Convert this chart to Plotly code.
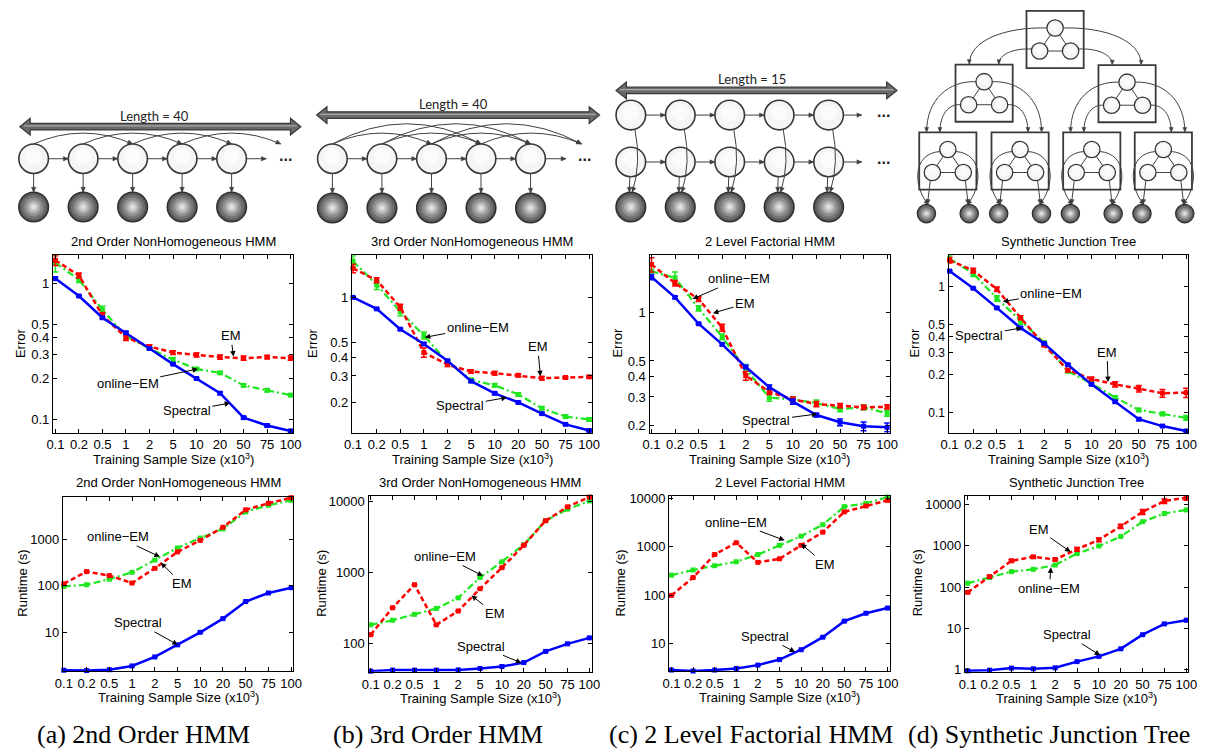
import math
import plotly.graph_objects as go

W, H = 1211, 753
FONT = "Liberation Sans"

# ---------------- data ----------------
sizes = ["0.1", "0.2", "0.5", "1", "2", "5", "10", "20", "50", "75", "100"]
xpos = list(range(1, 12))

# Error, (a) 2nd order HMM
err_a_spec = [1.08, 0.805, 0.558, 0.433, 0.332, 0.255, 0.200, 0.156, 0.1034, 0.0905, 0.0824]
err_a_em = [1.47, 1.14, 0.58, 0.40, 0.343, 0.31, 0.298, 0.287, 0.282, 0.287, 0.282]
err_a_oem = [1.41, 1.06, 0.638, 0.409, 0.332, 0.275, 0.235, 0.22, 0.178, 0.164, 0.151]
err_a_spec_sd = [0.03, 0.01, 0.01, 0.01, 0.005, 0.004, 0.003, 0.003, 0.002, 0.002, 0.002]
err_a_em_sd = [0.12, 0.05, 0.03, 0.02, 0.01, 0.01, 0.01, 0.01, 0.01, 0.008, 0.01]
err_a_oem_sd = [0.2, 0.05, 0.04, 0.02, 0.01, 0.01, 0.005, 0.005, 0.004, 0.004, 0.003]

# Error, (b) 3rd order HMM
err_b_spec = [1.0, 0.839, 0.614, 0.49, 0.379, 0.277, 0.230, 0.2, 0.1685, 0.143, 0.130]
err_b_em = [1.56, 1.30, 0.86, 0.43, 0.357, 0.321, 0.313, 0.303, 0.29, 0.293, 0.296]
err_b_oem = [1.74, 1.21, 0.805, 0.558, 0.371, 0.282, 0.26, 0.226, 0.183, 0.161, 0.154]
err_b_spec_sd = [0.01, 0.01, 0.01, 0.01, 0.005, 0.005, 0.004, 0.003, 0.003, 0.002, 0.002]
err_b_em_sd = [0.1, 0.05, 0.04, 0.03, 0.01, 0.008, 0.008, 0.006, 0.008, 0.005, 0.005]
err_b_oem_sd = [0.15, 0.08, 0.05, 0.03, 0.01, 0.008, 0.006, 0.005, 0.004, 0.004, 0.004]

# Error, (c) 2 level factorial HMM
err_c_spec = [1.647, 1.234, 0.849, 0.633, 0.459, 0.345, 0.281, 0.232, 0.2095, 0.198, 0.195]
err_c_em = [1.97, 1.51, 1.205, 0.803, 0.406, 0.323, 0.29, 0.271, 0.265, 0.259, 0.261]
err_c_oem = [1.79, 1.63, 1.057, 0.705, 0.446, 0.297, 0.29, 0.275, 0.253, 0.259, 0.238]
err_c_spec_sd = [0.06, 0.02, 0.01, 0.01, 0.01, 0.01, 0.01, 0.006, 0.01, 0.012, 0.012]
err_c_em_sd = [0.2, 0.06, 0.04, 0.04, 0.025, 0.012, 0.01, 0.01, 0.008, 0.008, 0.008]
err_c_oem_sd = [0.15, 0.14, 0.04, 0.03, 0.03, 0.015, 0.01, 0.012, 0.01, 0.01, 0.01]

# Error, (d) synthetic junction tree
err_d_spec = [1.326, 0.97, 0.677, 0.47, 0.354, 0.24, 0.1675, 0.122, 0.0887, 0.0782, 0.0715]
err_d_em = [1.62, 1.34, 0.953, 0.566, 0.344, 0.217, 0.185, 0.1675, 0.155, 0.1425, 0.144]
err_d_oem = [1.66, 1.27, 0.806, 0.533, 0.359, 0.213, 0.17, 0.132, 0.105, 0.0977, 0.0908]
err_d_spec_sd = [0.02, 0.01, 0.01, 0.01, 0.005, 0.004, 0.003, 0.002, 0.002, 0.001, 0.001]
err_d_em_sd = [0.08, 0.06, 0.04, 0.02, 0.01, 0.006, 0.006, 0.008, 0.009, 0.01, 0.012]
err_d_oem_sd = [0.1, 0.07, 0.04, 0.03, 0.01, 0.006, 0.005, 0.004, 0.003, 0.003, 0.004]

# Runtime (s), (a)
run_a_spec = [1.58, 1.55, 1.62, 1.95, 3.03, 5.5, 10.2, 20, 46.4, 70.6, 91.5]
run_a_em = [111, 202, 166, 115, 237, 532, 937, 1790, 4220, 5820, 7660]
run_a_oem = [97.5, 106, 139, 195, 356, 646, 1050, 1650, 3820, 5290, 6730]
# Runtime (s), (b)
run_b_spec = [40.3, 41.7, 41.7, 41.7, 42, 44, 46.9, 53.3, 76.6, 98, 119]
run_b_em = [132, 317, 670, 182, 285, 589, 1167, 2414, 5380, 8440, 11600]
run_b_oem = [182, 211, 256, 310, 437, 847, 1415, 2465, 5380, 7820, 10200]
# Runtime (s), (c)
run_c_spec = [2.88, 2.75, 2.88, 3.11, 3.64, 4.74, 7.57, 13.7, 29.4, 42.7, 54.8]
run_c_em = [100, 233, 695, 1219, 479, 568, 1076, 2009, 5270, 6980, 9110]
run_c_oem = [261, 334, 409, 493, 695, 1076, 1665, 2870, 6780, 7910, 10640]
# Runtime (s), (d)
run_d_spec = [0.947, 0.98, 1.1, 1.06, 1.12, 1.58, 2.11, 3.22, 7.06, 12.9, 15.8]
run_d_em = [74.6, 179, 431, 537, 464, 818, 1390, 2940, 6560, 12000, 14400]
run_d_oem = [124, 170, 236, 268, 340, 645, 982, 1667, 3790, 5990, 7330]
run_d_em_sd = [4, 10, 30, 30, 25, 80, 150, 350, 900, 1500, 1800]

err_ticks_ad = [0.1, 0.2, 0.3, 0.4, 0.5, 1]
err_ticks_bc = [0.2, 0.3, 0.4, 0.5, 1]
run_ticks_a = [10, 100, 1000]
run_ticks_b = [100, 1000, 10000]
run_ticks_c = [10, 100, 1000, 10000]
run_ticks_d = [1, 10, 100, 1000, 10000]

titles = ["2nd Order NonHomogeneous HMM", "3rd Order NonHomogeneous HMM",
          "2 Level Factorial HMM", "Synthetic Junction Tree"]
captions = ["(a) 2nd Order HMM", "(b) 3rd Order HMM",
            "(c) 2 Level Factorial HMM", "(d) Synthetic Junction Tree"]
xlabel = "Training Sample Size (x10<sup>3</sup>)"

RED, GREEN, BLUE = "#ff0000", "#1fe61f", "#0000ff"

def z(n):
    return [0] * n

panels = [
    dict(dom=(45.7, 289.3, 254, 434), xr=(0.9, 11.11), yr=(-1.096, 0.2045), yt=err_ticks_ad,
         title=titles[0], ylab="Error", ylx=13.3, ytf=13,
         s=(err_a_spec, err_a_spec_sd), e=(err_a_em, err_a_em_sd), o=(err_a_oem, err_a_oem_sd),
         ann=[("EM", (228.7, 356.7), (226, 336)), ("online−EM", (192.7, 369.3), (122.5, 384)),
              ("Spectral", (225.3, 404), (182, 411.7))]),
    dict(dom=(349, 592.3, 254, 434), xr=(0.96, 11.12), yr=(-0.9, 0.28), yt=err_ticks_bc,
         title=titles[1], ylab="Error", ylx=309.3, ytf=13,
         s=(err_b_spec, err_b_spec_sd), e=(err_b_em, err_b_em_sd), o=(err_b_oem, err_b_oem_sd),
         ann=[("online−EM", (422.7, 337.3), (475.8, 327.3)), ("EM", (540, 376.7), (537.3, 347.3)),
              ("Spectral", (506, 398.3), (459.3, 406.7))]),
    dict(dom=(650.7, 894.3, 254, 434), xr=(0.92, 11.11), yr=(-0.743, 0.351), yt=err_ticks_bc,
         title=titles[2], ylab="Error", ylx=618.3, ytf=13,
         s=(err_c_spec, err_c_spec_sd), e=(err_c_em, err_c_em_sd), o=(err_c_oem, err_c_oem_sd),
         ann=[("online−EM", (694.3, 298.3), (740.5, 278.3)), ("EM", (715, 312.7), (747, 303.3)),
              ("Spectral", (821, 415), (770, 421.7))]),
    dict(dom=(954, 1197.3, 254, 434), xr=(0.96, 11.1), yr=(-1.159, 0.248), yt=err_ticks_ad,
         title=titles[3], ylab="Error", ylx=919.5, ytf=12,
         s=(err_d_spec, err_d_spec_sd), e=(err_d_em, err_d_em_sd), o=(err_d_oem, err_d_oem_sd),
         ann=[("online−EM", (1009, 301), (1057.5, 292.7)), ("Spectral", (1028.3, 327.7), (985.8, 335)),
              ("EM", (1115.7, 382.7), (1114.7, 352.7))]),
    dict(dom=(55.7, 289.3, 499, 676), xr=(0.96, 11.09), yr=(0.179, 3.905), yt=run_ticks_a,
         title=titles[0], ylab="Runtime (s)", ylx=15, ytf=13,
         s=(run_a_spec, z(11)), e=(run_a_em, z(11)), o=(run_a_oem, z(11)),
         ann=[("online−EM", (154, 560), (111.8, 540)), ("EM", (155, 566), (176, 586.7)),
              ("Spectral", (172.3, 649.3), (132.5, 627.3))]),
    dict(dom=(365.7, 592.3, 498.3, 676.7), xr=(0.9, 11.12), yr=(1.596, 4.079), yt=run_ticks_b,
         title=titles[1], ylab="Runtime (s)", ylx=318.3, ytf=13,
         s=(run_b_spec, z(11)), e=(run_b_em, z(11)), o=(run_b_oem, z(11)),
         ann=[("online−EM", (481.7, 579.3), (443.5, 560)), ("EM", (470, 599.3), (493.3, 617.3)),
              ("Spectral", (520.7, 667.7), (480.8, 651))]),
    dict(dom=(670.7, 894.3, 498.3, 676), xr=(0.9, 11.1), yr=(0.437, 4.049), yt=run_ticks_c,
         title=titles[2], ylab="Runtime (s)", ylx=621.7, ytf=13,
         s=(run_c_spec, z(11)), e=(run_c_em, z(11)), o=(run_c_oem, z(11)),
         ann=[("online−EM", (787.7, 543.3), (738.8, 525)), ("EM", (804.3, 546.7), (828.3, 567.3)),
              ("Spectral", (798.3, 656.7), (768.7, 641))]),
    dict(dom=(970.7, 1197.3, 498.3, 676.7), xr=(0.88, 11.1), yr=(-0.048, 4.2), yt=run_ticks_d,
         title=titles[3], ylab="Runtime (s)", ylx=923.3, ytf=13,
         s=(run_d_spec, z(11)), e=(run_d_em, run_d_em_sd), o=(run_d_oem, z(11)),
         ann=[("EM", (1077.7, 555), (1045.8, 532.7)), ("online−EM", (1057.7, 570.7), (1056.2, 591.7)),
              ("Spectral", (1107.7, 660), (1075, 639.3))]),
]

def px(x):
    return x / W

def py(y):
    return 1 - y / H

def tfmt(v):
    return str(v) if v < 1 else str(int(v))

fig = go.Figure()
layout = dict(width=W, height=H, margin=dict(l=0, r=0, t=0, b=0, pad=0),
              paper_bgcolor="white", plot_bgcolor="rgba(0,0,0,0)", showlegend=False,
              font=dict(family=FONT, size=13, color="black"))
annotations = []
shapes = []

for i, p in enumerate(panels, start=1):
    xa = "xaxis" if i == 1 else f"xaxis{i}"
    ya = "yaxis" if i == 1 else f"yaxis{i}"
    xr = "x" if i == 1 else f"x{i}"
    yr = "y" if i == 1 else f"y{i}"
    x0, x1, y0, y1 = p["dom"]
    axstyle = dict(ticks="inside", ticklen=4, tickwidth=1, showline=True, mirror="ticks",
                   linecolor="black", linewidth=1.3, tickcolor="black", showgrid=False,
                   zeroline=False, fixedrange=True)
    layout[xa] = dict(domain=[px(x0), px(x1)], range=list(p["xr"]), tickmode="array",
                      tickvals=xpos, ticktext=sizes, anchor=yr,
                      tickfont=dict(family=FONT, size=13, color="black"), **axstyle)
    layout[ya] = dict(domain=[py(y1), py(y0)], type="log", range=list(p["yr"]), tickmode="array",
                      tickvals=p["yt"], ticktext=[tfmt(v) for v in p["yt"]], anchor=xr,
                      tickfont=dict(family=FONT, size=p["ytf"], color="black"), **axstyle)
    series = [
        (p["o"], GREEN, "7px,3px,2px,3px", 2.2),
        (p["e"], RED, "5px,3px", 2.5),
        (p["s"], BLUE, "solid", 2.5),
    ]
    for (vals, sd), color, dash, wdt in series:
        fig.add_trace(go.Scatter(
            x=xpos, y=vals, mode="lines+markers", xaxis=xr, yaxis=yr, cliponaxis=False,
            line=dict(color=color, width=wdt, dash=dash),
            marker=dict(symbol="square", size=5, color=color),
            error_y=dict(type="data", array=sd, color=color, thickness=1.5, width=3, visible=True),
        ))
    cx = (x0 + x1) / 2
    annotations.append(dict(text=p["title"], x=px(cx), y=py(y0 - 14), xref="paper", yref="paper",
                            showarrow=False, xanchor="center", yanchor="middle",
                            font=dict(family=FONT, size=13)))
    annotations.append(dict(text=xlabel, x=px(cx), y=py(y1 + 26.5), xref="paper", yref="paper",
                            showarrow=False, xanchor="center", yanchor="middle",
                            font=dict(family=FONT, size=13)))
    annotations.append(dict(text=p["ylab"], x=px(p["ylx"]), y=py((y0 + y1) / 2 - 1), xref="paper",
                            yref="paper", showarrow=False, textangle=-90, xanchor="center",
                            yanchor="middle", font=dict(family=FONT, size=13)))
    for txt, tip, tpos in p["ann"]:
        annotations.append(dict(text=txt, x=px(tip[0]), y=py(tip[1]), xref="paper", yref="paper",
                                ax=tpos[0] - tip[0], ay=tpos[1] - tip[1], showarrow=True,
                                arrowhead=2, arrowsize=1.1, arrowwidth=1, arrowcolor="black",
                                standoff=0, startstandoff=0, font=dict(family=FONT, size=13)))

# captions
cap_x = [137, 436.5, 754, 1056]
for t, cxp in zip(captions, cap_x):
    annotations.append(dict(text=t, x=px(cxp), y=py(740), xref="paper", yref="paper",
                            showarrow=False, xanchor="center", yanchor="middle",
                            font=dict(family="Liberation Serif", size=26, color="black")))

# ---------------- diagrams (overlay pixel axis) ----------------
layout["xaxis9"] = dict(domain=[0, 1], range=[0, W], visible=False, fixedrange=True, anchor="y9")
layout["yaxis9"] = dict(domain=[0, 1], range=[H, 0], visible=False, fixedrange=True, anchor="x9")
fig.add_trace(go.Scatter(x=[], y=[], xaxis="x9", yaxis="y9", hoverinfo="skip"))

EDGE = "#404040"

def add_path(path, color=EDGE, w=1.0, fill=None):
    d = dict(type="path", path=path, xref="x9", yref="y9", line=dict(color=color, width=w),
             layer="above")
    if fill:
        d["fillcolor"] = fill
    shapes.append(d)

def head(tip, frm, L=5.0, hw=2.2, color=EDGE):
    dx, dy = tip[0] - frm[0], tip[1] - frm[1]
    n = math.hypot(dx, dy)
    ux, uy = dx / n, dy / n
    bx, by = tip[0] - L * ux, tip[1] - L * uy
    pth = (f"M{tip[0]:.2f},{tip[1]:.2f} L{bx - hw * uy:.2f},{by + hw * ux:.2f} "
           f"L{bx + hw * uy:.2f},{by - hw * ux:.2f} Z")
    add_path(pth, color, 0.5, color)

def line_arrow(p0, p1, hd=True, w=1.0):
    add_path(f"M{p0[0]:.2f},{p0[1]:.2f} L{p1[0]:.2f},{p1[1]:.2f}", EDGE, w)
    if hd:
        head(p1, p0)

def quad_arrow(p0, c, p1):
    add_path(f"M{p0[0]:.2f},{p0[1]:.2f} Q{c[0]:.2f},{c[1]:.2f} {p1[0]:.2f},{p1[1]:.2f}")
    head(p1, c)

def cubic_arrow(p0, c1, c2, p1):
    add_path(f"M{p0[0]:.2f},{p0[1]:.2f} C{c1[0]:.2f},{c1[1]:.2f} {c2[0]:.2f},{c2[1]:.2f} "
             f"{p1[0]:.2f},{p1[1]:.2f}")
    head(p1, c2, L=4.5, hw=2.0)

def circ(cx, cy, r, fill, lc="#333333", lw=1.5):
    shapes.append(dict(type="circle", xref="x9", yref="y9", x0=cx - r, x1=cx + r,
                       y0=cy - r, y1=cy + r, fillcolor=fill,
                       line=dict(color=lc, width=lw), layer="above"))

def hidden(cx, cy, r=15, lw=1.6):
    circ(cx, cy, r, "#f5f5f5", "#383838", lw)
    circ(cx, cy - r * 0.15, r * 0.55, "#fbfbfb", "#fbfbfb", 0)

def observed(cx, cy, r=15, lw=1.6):
    circ(cx, cy, r, "#5a5a5a", "#303030", lw)
    for f, c in [(0.82, "#727272"), (0.64, "#8e8e8e"), (0.46, "#ababab"),
                 (0.3, "#c8c8c8"), (0.15, "#e2e2e2")]:
        circ(cx, cy, r * f, c, c, 0)

def dbl_arrow(x0, x1, y, hl=10.5, hh=8.5, bw=3.3):
    pth = (f"M{x0},{y} L{x0 + hl},{y - hh} L{x0 + hl},{y - bw} L{x1 - hl},{y - bw} "
           f"L{x1 - hl},{y - hh} L{x1},{y} L{x1 - hl},{y + hh} L{x1 - hl},{y + bw} "
           f"L{x0 + hl},{y + bw} L{x0 + hl},{y + hh} Z")
    add_path(pth, "#3a3a3a", 1.2, "#6a6a6a")
    add_path(f"M{x0 + 4},{y - 0.8} L{x1 - 4},{y - 0.8}", "#a9a9a9", 1.3)

def label(text, x, y, size=13, family="Lato", bold=False):
    annotations.append(dict(text=(f"<b>{text}</b>" if bold else text), x=x, y=y, xref="x9",
                            yref="y9", showarrow=False, xanchor="center", yanchor="middle",
                            font=dict(family=family, size=size, color="#222222")))

R = 15
# --- diagram (a): 2nd order HMM ---
xs = [26 + 50.2 * k for k in range(5)]
hy, oy = 156, 205
dbl_arrow(12, 297, 123.5)
label("Length = 40", 149, 112.5)
for k in range(4):
    end = (xs[k + 2], 141) if k + 2 < 5 else (276.7, 141)
    quad_arrow((xs[k], 141), ((xs[k] + end[0]) / 2, 119), end)
for k in range(5):
    nxt = xs[k + 1] - R if k < 4 else 262
    line_arrow((xs[k] + R, hy), (nxt, hy))
    line_arrow((xs[k], hy + R), (xs[k], oy - R))
for k in range(5):
    hidden(xs[k], hy)
    observed(xs[k], oy)
label("...", 281, 153, size=16, family=FONT, bold=True)

# --- diagram (b): 3rd order HMM ---
xs = [329 + 50.25 * k for k in range(5)]
hy, oy = 156, 206
dbl_arrow(313, 600, 111.7)
label("Length = 40", 451.7, 100.5)
for k in range(4):
    end = (xs[k + 2], 141) if k + 2 < 5 else (581.7, 141)
    quad_arrow((xs[k], 141), ((xs[k] + end[0]) / 2, 119), end)
for k in range(3):
    end = (xs[k + 3], 141) if k + 3 < 5 else (581.7, 141)
    quad_arrow((xs[k], 141), ((xs[k] + end[0]) / 2, 100), end)
for k in range(5):
    nxt = xs[k + 1] - R if k < 4 else 566
    line_arrow((xs[k] + R, hy), (nxt, hy))
    line_arrow((xs[k], hy + R), (xs[k], oy - R))
for k in range(5):
    hidden(xs[k], hy)
    observed(xs[k], oy)
label("...", 585, 153, size=16, family=FONT, bold=True)

# --- diagram (c): 2 level factorial HMM ---
xs = [631.7 + 50.15 * k for k in range(5)]
r1, r2, oy = 111.7, 159.3, 205
dbl_arrow(616.7, 901.7, 86.7)
label("Length = 15", 755, 75)
for k in range(5):
    nxt = xs[k + 1] - R if k < 4 else 866
    line_arrow((xs[k] + R, r1), (nxt, r1))
    line_arrow((xs[k] + R, r2), (nxt, r2))
for k in range(5):
    hidden(xs[k], r1)
    hidden(xs[k], r2)
    observed(xs[k], oy)
for k in range(5):
    line_arrow((xs[k] - 1, r2 + R), (xs[k] - 1.5, oy - R))
    quad_arrow((xs[k] + 4, r1 + R - 1), (xs[k] + 11, 160), (xs[k] + 1.5, oy - R))
label("...", 888, 108, size=16, family=FONT, bold=True)
label("...", 888, 156, size=16, family=FONT, bold=True)

# --- diagram (d): junction tree ---
BS, CR = 58, 8.3

def jt_box(cx, top):
    shapes.append(dict(type="rect", xref="x9", yref="y9", x0=cx - BS / 2, x1=cx + BS / 2,
                       y0=top, y1=top + BS, line=dict(color="#3a3a3a", width=1.8),
                       fillcolor="rgba(0,0,0,0)", layer="above"))
    T = (cx, top + 17.3)
    Lc = (cx - 15.7, top + 40.7)
    Rc = (cx + 15.7, top + 40.7)
    for a, b in [(T, Lc), (T, Rc), (Lc, Rc)]:
        line_arrow(a, b, hd=False)
    for c in (T, Lc, Rc):
        hidden(c[0], c[1], CR, 1.3)
    return T, Lc, Rc

def arc_to(s, e, bend=0.55):
    c1 = (s[0] + (e[0] - s[0]) * bend, s[1] - 1)
    c2 = (e[0], s[1] + (e[1] - s[1]) * 0.35)
    cubic_arrow(s, c1, c2, e)

top_c = (1062, 6)
l2 = [(990, 60.5), (1135, 61)]
l3 = [(953.2, 129.3), (1026.5, 129.3), (1099.2, 129.3), (1171.8, 129.3)]

T, Lc, Rc = jt_box(*top_c)
arc_to((T[0] - CR, T[1]), (l2[0][0] - 15, l2[0][1] - 0.5))
arc_to((T[0] + CR, T[1]), (l2[1][0] + 14.3, l2[1][1] - 0.5))
arc_to((Lc[0] - CR, Lc[1] - 2), (l2[0][0] + 15, l2[0][1] - 0.5))
arc_to((Rc[0] + CR, Rc[1] - 2), (l2[1][0] - 15, l2[1][1] - 0.5))

for j, (cx, top) in enumerate(l2):
    T, Lc, Rc = jt_box(cx, top)
    cl, cr = l3[2 * j][0], l3[2 * j + 1][0]
    ct = l3[0][1] - 0.5
    arc_to((T[0] - CR, T[1]), (cl - 21.5, ct))
    arc_to((T[0] + CR, T[1]), (cr + 21.8, ct))
    arc_to((Lc[0] - CR, Lc[1]), (cl - 8, ct))
    arc_to((Rc[0] + CR, Rc[1]), (cr + 8, ct))

LR, LY = 9.3, 211.7
for cx, top in l3:
    T, Lc, Rc = jt_box(cx, top)
    ll, lr = (cx - 21.7, LY), (cx + 21.7, LY)
    line_arrow((Lc[0] - 2, Lc[1] + CR - 0.5), (ll[0] + 1, LY - LR))
    line_arrow((Rc[0] + 2, Rc[1] + CR - 0.5), (lr[0] - 1, LY - LR))
    cubic_arrow((T[0] - CR + 1, T[1] + 2), (cx - 38, T[1] + 4), (cx - 34, LY - 25), (ll[0] + 2, LY - LR))
    cubic_arrow((T[0] + CR - 1, T[1] + 2), (cx + 38, T[1] + 4), (cx + 34, LY - 25), (lr[0] - 2, LY - LR))
    observed(ll[0], LY, LR, 1.3)
    observed(lr[0], LY, LR, 1.3)

layout["annotations"] = annotations
layout["shapes"] = shapes
fig.update_layout(**layout)
fig.write_html("out.html")
